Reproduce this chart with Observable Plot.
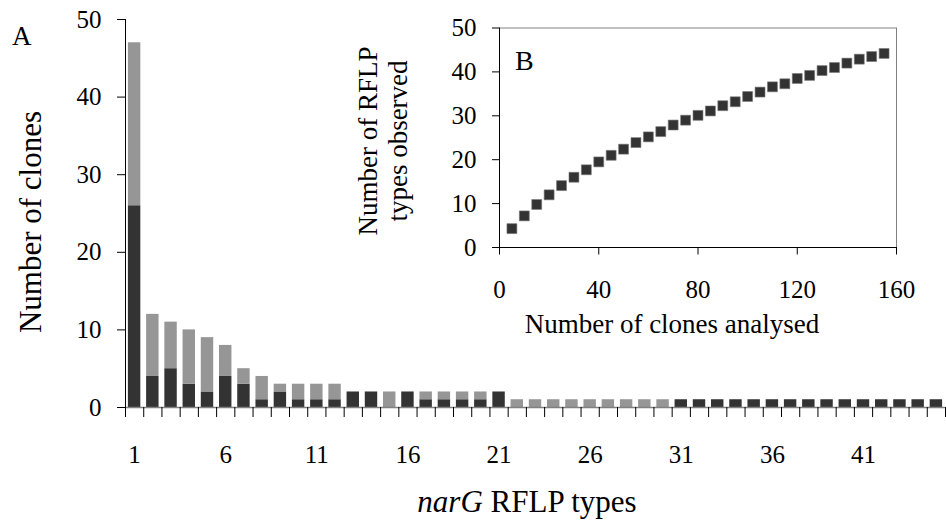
<!DOCTYPE html>
<html><head><meta charset="utf-8">
<script src="https://cdn.jsdelivr.net/npm/d3@7"></script>
<script src="https://cdn.jsdelivr.net/npm/@observablehq/plot@0.6"></script>
<style>
html,body{margin:0;padding:0;background:#fff;}
#chart{position:relative;width:946px;height:523px;overflow:hidden;font-family:"Liberation Serif","Times New Roman",serif;color:#000;}
#chart svg{position:absolute;}
</style></head><body><div id="chart"></div>
<script>
// ---- Panel A data ----
const rflpTypes = [1,2,3,4,5,6,7,8,9,10,11,12,13,14,15,16,17,18,19,20,21,22,23,24,25,26,27,28,29,30,31,32,33,34,35,36,37,38,39,40,41,42,43,44,45];
const darkCounts = [26,4,5,3,2,4,3,1,2,1,1,1,2,2,0,2,1,1,1,1,2,0,0,0,0,0,0,0,0,0,1,1,1,1,1,1,1,1,1,1,1,1,1,1,1];
const greyCounts = [21,8,6,7,7,4,2,3,1,2,2,2,0,0,2,0,1,1,1,1,0,1,1,1,1,1,1,1,1,1,0,0,0,0,0,0,0,0,0,0,0,0,0,0,0];
const xTickLabels = [1,6,11,16,21,26,31,36,41];
const yTicksMain = [0,10,20,30,40,50];

// ---- Panel B data ----
const clonesAnalysed = [5,10,15,20,25,30,35,40,45,50,55,60,65,70,75,80,85,90,95,100,105,110,115,120,125,130,135,140,145,150,155];
const typesObserved = [4.3,7.2,9.8,12.0,14.1,16.0,17.7,19.5,21.0,22.4,23.9,25.2,26.4,27.9,29.0,30.1,31.1,32.3,33.2,34.4,35.4,36.6,37.3,38.5,39.2,40.3,41.0,42.0,42.9,43.5,44.2];
const insetXTicks = [0,40,80,120,160];
const insetYTicks = [0,10,20,30,40,50];

const FONT = '"Liberation Serif","Times New Roman",serif';
const chart = document.getElementById("chart");

const bars = rflpTypes.flatMap((t, i) => [
  {type: t, series: "dark", y1: 0, y2: darkCounts[i]},
  {type: t, series: "grey", y1: darkCounts[i], y2: darkCounts[i] + greyCounts[i]}
]).filter(d => d.y2 > d.y1);
const boundaries = rflpTypes.map(t => t - 0.5).concat([rflpTypes[rflpTypes.length - 1] + 0.5]);

const main = Plot.plot({
  width: 946, height: 523,
  marginLeft: 125, marginRight: 1, marginTop: 19, marginBottom: 116,
  style: {fontFamily: FONT, fontSize: "25px", background: "transparent", color: "#000", overflow: "visible"},
  x: {type: "linear", domain: [boundaries[0], boundaries[boundaries.length - 1]]},
  y: {domain: [0, 50]},
  color: {domain: ["dark", "grey"], range: ["#333333", "#969696"]},
  marks: [
    Plot.rectY(bars, {x1: d => d.type - 0.5, x2: d => d.type + 0.5, y1: "y1", y2: "y2", fill: "series", insetLeft: 2.9, insetRight: 2.9}),
    Plot.ruleY([0], {stroke: "#808080", strokeWidth: 1.5}),
    Plot.ruleX([boundaries[0]], {stroke: "#000", strokeWidth: 1}),
    Plot.axisY({ticks: yTicksMain, tickSize: 8, tickPadding: 16, fontSize: 25, fontFamily: FONT, label: null, tickFormat: d => d}),
    Plot.axisX({ticks: boundaries, tickSize: 10, tickFormat: () => "", label: null}),
    Plot.axisX({ticks: xTickLabels, tickSize: 0, tickPadding: 38, fontSize: 25, fontFamily: FONT, label: null, tickFormat: d => d})
  ]
});
main.style.left = "0px"; main.style.top = "0px";
chart.appendChild(main);

const insetData = clonesAnalysed.map((c, i) => ({clones: c, types: typesObserved[i]}));
const inset = Plot.plot({
  width: 490, height: 310,
  marginLeft: 59, marginRight: 34, marginTop: 27.5, marginBottom: 63,
  style: {fontFamily: FONT, fontSize: "25px", background: "transparent", color: "#000", overflow: "visible"},
  x: {domain: [0, 160]},
  y: {domain: [0, 50]},
  marks: [
    Plot.ruleY([50], {stroke: "#808080", strokeWidth: 1}),
    Plot.ruleX([160], {stroke: "#808080", strokeWidth: 1}),
    Plot.ruleX([0], {stroke: "#000"}),
    Plot.ruleY([0], {stroke: "#000"}),
    Plot.axisX({ticks: insetXTicks, tickSize: 7.5, tickPadding: 25, fontSize: 25, fontFamily: FONT, label: null, tickFormat: d => d}),
    Plot.axisY({ticks: insetYTicks, tickSize: 7, tickPadding: 16, fontSize: 25, fontFamily: FONT, label: null, tickFormat: d => d}),
    Plot.dot(insetData, {x: "clones", y: "types", symbol: "square", r: 5.6, fill: "#333333", stroke: "#777", strokeWidth: 0.6})
  ]
});
inset.style.left = "440px"; inset.style.top = "0px";
chart.appendChild(inset);

// ---- titles / annotations ----
const svg = d3.select(chart).append("svg")
  .attr("width", 946).attr("height", 523)
  .style("left", "0px").style("top", "0px")
  .style("font-family", FONT).style("pointer-events", "none");

svg.append("text").attr("x", 12).attr("y", 45).attr("font-size", 27).text("A");
svg.append("text").attr("transform", "translate(41,222) rotate(-90)")
  .attr("text-anchor", "middle").attr("font-size", 31).text("Number of clones");
const xt = svg.append("text").attr("x", 527).attr("y", 512).attr("text-anchor", "middle").attr("font-size", 31);
xt.append("tspan").attr("font-style", "italic").text("narG");
xt.append("tspan").text(" RFLP types");

svg.append("text").attr("x", 515).attr("y", 70).attr("font-size", 28).text("B");
svg.append("text").attr("x", 672).attr("y", 333).attr("text-anchor", "middle").attr("font-size", 27).text("Number of clones analysed");
svg.append("text").attr("transform", "translate(377,141) rotate(-90)")
  .attr("text-anchor", "middle").attr("font-size", 27).text("Number of RFLP");
svg.append("text").attr("transform", "translate(407,141) rotate(-90)")
  .attr("text-anchor", "middle").attr("font-size", 27).text("types observed");
</script></body></html>
